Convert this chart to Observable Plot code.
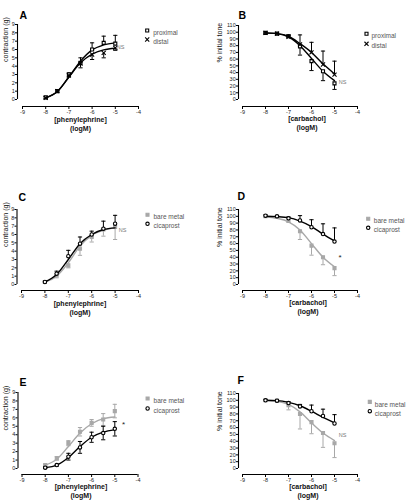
<!DOCTYPE html>
<html><head><meta charset="utf-8">
<script src="https://cdn.jsdelivr.net/npm/d3@7"></script>
<script src="https://cdn.jsdelivr.net/npm/@observablehq/plot@0.6"></script>
<style>
html,body{margin:0;padding:0;background:#fff;}
#fig{position:relative;width:410px;height:503px;overflow:hidden;font-family:"Liberation Sans",Arial,sans-serif;}
#fig svg{position:absolute;}
</style></head><body><div id="fig"></div>
<script>
// ---- data ----
const xConc = [-8, -7.5, -7, -6.5, -6, -5.5, -5];
const xTicks = [-9, -8, -7, -6, -5, -4];
const contractionTicks = [0, 1, 2, 3, 4, 5, 6, 7, 8, 9];
const toneTicks = [0, 10, 20, 30, 40, 50, 60, 70, 80, 90, 100, 110];
const panelLetters = ["A", "B", "C", "D", "E", "F"];
const contractionLabel = "contraction (g)";
const toneLabel = "% initial tone";
const pheLabel = "[phenylephrine]\n(logM)";
const carbLabel = "[carbachol]\n(logM)";
const notes = ["NS", "NS", "NS", "*", "*", "NS"];

// A: phenylephrine, proximal vs distal
const aProximalMean = [0.25, 1.0, 3.0, 4.4, 6.0, 6.8, 6.7];
const aProximalSem  = [0.1, 0.15, 0.2, 0.6, 0.8, 0.8, 1.0];
const aProximalFit  = [0.2, 0.95, 2.7, 4.6, 5.95, 6.55, 6.8];
const aDistalMean   = [0.2, 1.0, 2.9, 4.3, 5.4, 5.6, 6.2];
const aDistalSem    = [0.1, 0.1, 0.2, 0.5, 0.6, 0.6, 0.3];
const aDistalFit    = [0.2, 0.95, 2.7, 4.4, 5.45, 5.95, 6.15];
// B: carbachol, proximal vs distal
const bProximalMean = [99, 98, 94, 79, 57, 42, 24];
const bProximalSem  = [1, 1, 2, 13, 14, 14, 9];
const bProximalFit  = [99, 98, 93, 80, 61, 42, 28];
const bDistalMean   = [99, 98, 93, 82, 70, 52, 37];
const bDistalSem    = [1, 1, 3, 14, 15, 20, 20];
const bDistalFit    = [99, 98, 94, 83, 70, 53, 38];
// C: phenylephrine, bare metal vs cicaprost
const cBareMean = [0.3, 1.1, 2.3, 4.3, 5.7, 6.6, 6.9];
const cBareSem  = [0.1, 0.3, 0.3, 0.8, 0.6, 0.8, 1.5];
const cBareFit  = [0.3, 1.0, 2.6, 4.6, 5.9, 6.5, 6.8];
const cCicaMean = [0.3, 1.3, 3.4, 4.9, 6.0, 6.7, 7.3];
const cCicaSem  = [0.1, 0.3, 0.7, 0.8, 0.4, 0.9, 1.0];
const cCicaFit  = [0.3, 1.2, 3.0, 4.9, 6.0, 6.6, 6.8];
// D: carbachol, bare metal vs cicaprost
const dBareMean = [100, 99, 94, 78, 57, 40, 24];
const dBareSem  = [1, 1, 3, 12, 14, 11, 11];
const dBareFit  = [99, 97, 92, 80, 60, 40, 26];
const dCicaMean = [101, 100, 97, 94, 84, 74, 63];
const dCicaSem  = [1, 1, 2, 7, 11, 15, 20];
const dCicaFit  = [100, 99.5, 98, 93, 85, 74, 64];
// E: phenylephrine, bare metal vs cicaprost
const eBareMean = [0.4, 1.2, 3.0, 4.35, 5.4, 5.8, 6.8];
const eBareSem  = [0.1, 0.2, 0.3, 0.5, 0.4, 0.7, 0.8];
const eBareFit  = [0.4, 1.1, 2.6, 4.2, 5.3, 5.9, 6.1];
const eCicaMean = [0.1, 0.4, 1.4, 2.5, 3.7, 4.2, 4.7];
const eCicaSem  = [0.1, 0.1, 0.4, 0.7, 0.6, 0.8, 0.85];
const eCicaFit  = [0.1, 0.4, 1.3, 2.6, 3.7, 4.3, 4.6];
// F: carbachol, bare metal vs cicaprost
const fBareMean = [100, 99.5, 93, 80, 68, 52, 37];
const fBareSem  = [1, 1, 7, 22, 17, 21, 21];
const fBareFit  = [99.5, 98.5, 94, 83, 67, 52, 41];
const fCicaMean = [100, 99.5, 96, 91, 84, 77, 66];
const fCicaSem  = [1, 1, 2, 3, 9, 10, 13];
const fCicaFit  = [100, 99.5, 97, 92, 84, 75, 67];

// ---- styles ----
const GRAY = "#a8a8a8";
const styles = {
  proximal: {symbol: "square", fill: "#fff", stroke: "#000", r: 1.7},
  distal:   {symbol: "times",  fill: "none", stroke: "#000", r: 2.0},
  bare:     {symbol: "square", fill: GRAY,   stroke: GRAY,   r: 1.7},
  cica:     {symbol: "circle", fill: "#fff", stroke: "#000", r: 1.7}
};
const capSymbol = {draw(ctx, size) { const w = Math.sqrt(size / Math.PI); ctx.moveTo(-w, 0); ctx.lineTo(w, 0); }};

const panels = [
  {cell: [0, 0, 205, 165], m: [24, 67, 66, 22], yTicks: contractionTicks, yLabel: contractionLabel, xLabel: pheLabel,
   axDx: -5, axDy: 7, let: [-3, -13], yLabDx: -17, xLab: [0, 24], leg: [8.7, 6, 9, 6], note: [-14, 21],
   series: [
     {name: "proximal", st: "proximal", mean: aProximalMean, sem: aProximalSem, fit: aProximalFit, err: "up"},
     {name: "distal", st: "distal", mean: aDistalMean, sem: aDistalSem, fit: aDistalFit, err: "down"}]},
  {cell: [205, 0, 205, 165], m: [25, 53, 66, 37], yTicks: toneTicks, yLabel: toneLabel, xLabel: carbLabel,
   axDx: -4, axDy: 7, let: [-4, -14], yLabDx: -23, xLab: [7, 23], leg: [9, 8.3, 10, 5], note: [-11, 55],
   series: [
     {name: "proximal", st: "proximal", mean: bProximalMean, sem: bProximalSem, fit: bProximalFit, err: "down"},
     {name: "distal", st: "distal", mean: bDistalMean, sem: bDistalSem, fit: bDistalFit, err: "up"}]},
  {cell: [0, 165, 205, 165], m: [44, 67, 46, 21], yTicks: contractionTicks, yLabel: contractionLabel, xLabel: pheLabel,
   axDx: -4.5, axDy: 6, let: [-3, -16], yLabDx: -16, xLab: [0, 23.5], leg: [9, 5.3, 9, 6], note: [-12, 19],
   series: [
     {name: "bare metal", st: "bare", mean: cBareMean, sem: cBareSem, fit: cBareFit, err: "down"},
     {name: "cicaprost", st: "cica", mean: cCicaMean, sem: cCicaSem, fit: cCicaFit, err: "up"}]},
  {cell: [205, 165, 205, 165], m: [44, 53, 46, 37], yTicks: toneTicks, yLabel: toneLabel, xLabel: carbLabel,
   axDx: -4, axDy: 6, let: [-5, -17], yLabDx: -23, xLab: [8, 22.5], leg: [10.7, 9.3, 9, 5.6], note: [-16, 45],
   series: [
     {name: "bare metal", st: "bare", mean: dBareMean, sem: dBareSem, fit: dBareFit, err: "down"},
     {name: "cicaprost", st: "cica", mean: dCicaMean, sem: dCicaSem, fit: dCicaFit, err: "up"}]},
  {cell: [0, 330, 205, 173], m: [62, 67.5, 35, 21.5], yTicks: contractionTicks, yLabel: contractionLabel, xLabel: pheLabel,
   axDx: -4, axDy: 6, let: [-2.5, -14], yLabDx: -16.5, xLab: [1, 22.5], leg: [9.6, 6, 10, 6], note: [-13, 29],
   series: [
     {name: "bare metal", st: "bare", mean: eBareMean, sem: eBareSem, fit: eBareFit, err: "both"},
     {name: "cicaprost", st: "cica", mean: eCicaMean, sem: eCicaSem, fit: eCicaFit, err: "both"}]},
  {cell: [205, 330, 205, 173], m: [63, 53, 35, 37], yTicks: toneTicks, yLabel: toneLabel, xLabel: carbLabel,
   axDx: -4, axDy: 6, let: [-5, -17], yLabDx: -23, xLab: [8, 22.5], leg: [12.3, 8.4, 9.3, 5], note: [-11, 40],
   series: [
     {name: "bare metal", st: "bare", mean: fBareMean, sem: fBareSem, fit: fBareFit, err: "down"},
     {name: "cicaprost", st: "cica", mean: fCicaMean, sem: fCicaSem, fit: fCicaFit, err: "up"}]}
];

const fig = document.getElementById("fig");
const FONT = '"Liberation Sans", Arial, sans-serif';

panels.forEach((p, i) => {
  const [left, top, w, h] = p.cell;
  const [mt, mr, mb, ml] = p.m;
  const yT = p.yTicks;
  const marks = [];

  // axes
  marks.push(Plot.ruleX([xTicks[0]], {y1: yT[0], y2: yT[yT.length - 1], dx: p.axDx, stroke: "#000", strokeWidth: 1.1}));
  marks.push(Plot.ruleY([yT[0]], {x1: xTicks[0], x2: xTicks[xTicks.length - 1], dy: p.axDy, stroke: "#000", strokeWidth: 1.1}));
  marks.push(Plot.axisY(yT, {anchor: "left", dx: p.axDx, tickSize: 2, tickPadding: 0.8, fontSize: 5.5, fill: "#222", stroke: "#000", tickFormat: d => `${d}`, label: null}));
  marks.push(Plot.axisX(xTicks, {anchor: "bottom", dy: p.axDy, tickSize: 3, tickPadding: 1, fontSize: 5.5, fill: "#222", stroke: "#000", tickFormat: d => `${d}`, label: null}));

  // axis titles
  marks.push(Plot.text([p.xLabel], {frameAnchor: "bottom", dx: p.xLab[0], dy: p.xLab[1], lineHeight: 1.22, fontSize: 7, fontWeight: "bold", fill: "#111", lineAnchor: "middle"}));
  marks.push(Plot.text([p.yLabel], {frameAnchor: "left", dx: p.yLabDx, rotate: -90, fontSize: 7, fill: "#111"}));

  // panel letter
  marks.push(Plot.text([panelLetters[i]], {frameAnchor: "top-left", dx: p.let[0], dy: p.let[1], fontSize: 10.5, fontWeight: "bold", fill: "#000"}));

  // series
  p.series.forEach((s, k) => {
    const st = styles[s.st];
    const color = st.stroke;
    const pts = xConc.map((x, j) => ({x, mean: s.mean[j], sem: s.sem[j], fit: s.fit[j]}));
    const up = s.err !== "down", down = s.err !== "up";
    const bars = pts.map(d => ({x: d.x, lo: down ? d.mean - d.sem : d.mean, hi: up ? d.mean + d.sem : d.mean}));
    const caps = [];
    bars.forEach(b => { if (up) caps.push({x: b.x, y: b.hi}); if (down) caps.push({x: b.x, y: b.lo}); });
    marks.push(Plot.line(pts, {x: "x", y: "fit", stroke: color, strokeWidth: 1.4, curve: "monotone-x"}));
    marks.push(Plot.ruleX(bars, {x: "x", y1: "lo", y2: "hi", stroke: color, strokeWidth: 1}));
    marks.push(Plot.dot(caps, {x: "x", y: "y", symbol: capSymbol, r: 2.1, stroke: color, strokeWidth: 1, fill: "none"}));
    marks.push(Plot.dot(pts, {x: "x", y: "mean", symbol: st.symbol, r: st.r, fill: st.fill, stroke: st.stroke, strokeWidth: 1.1}));

    // legend entry
    const [ldx, ldy, lstep, ltx] = p.leg;
    marks.push(Plot.dot([s.name], {frameAnchor: "top-right", dx: ldx, dy: ldy + k * lstep, symbol: st.symbol, r: st.r, fill: st.fill, stroke: st.stroke, strokeWidth: 1.1}));
    marks.push(Plot.text([s.name], {frameAnchor: "top-right", dx: ldx + ltx, dy: ldy + k * lstep, textAnchor: "start", fontSize: 6.5, fill: "#555"}));
  });

  // significance note
  const isStar = notes[i] === "*";
  marks.push(Plot.text([notes[i]], {frameAnchor: "top-right", dx: p.note[0], dy: p.note[1], fontSize: isStar ? 8 : 5.5, fill: isStar ? "#222" : "#777"}));

  const svg = Plot.plot({
    width: w, height: h,
    marginTop: mt, marginRight: mr, marginBottom: mb, marginLeft: ml,
    x: {domain: [xTicks[0], xTicks[xTicks.length - 1]]},
    y: {domain: [yT[0], yT[yT.length - 1]]},
    style: {fontFamily: FONT, background: "transparent", overflow: "visible"},
    marks
  });
  svg.style.left = left + "px";
  svg.style.top = top + "px";
  svg.style.maxWidth = "none";
  fig.appendChild(svg);
});
</script>
</body></html>
